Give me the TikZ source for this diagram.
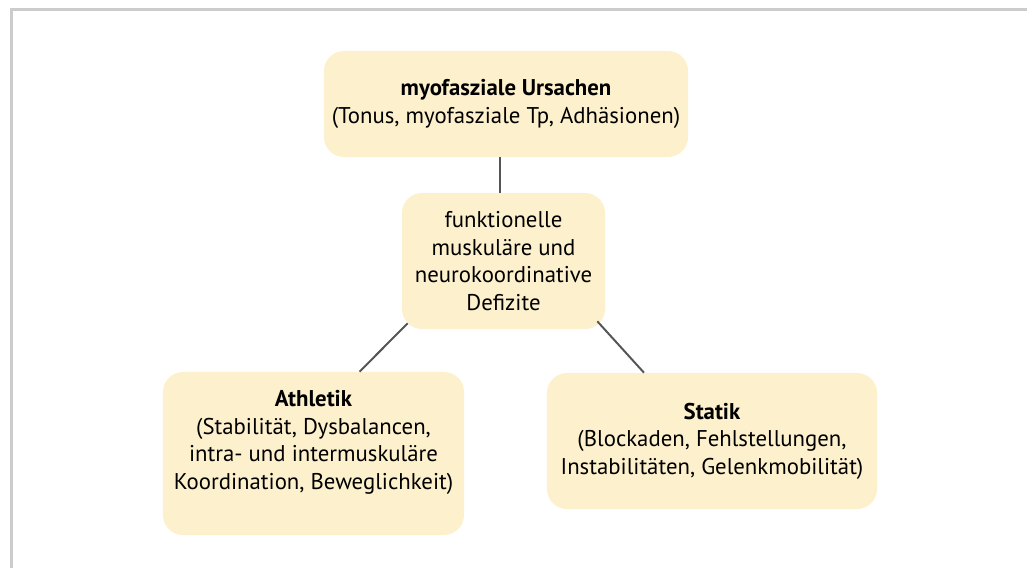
\documentclass[tikz,border=0pt]{standalone}
\usepackage{fontspec}
\setmainfont{PT Sans}
\usetikzlibrary{calc}
\definecolor{boxfill}{HTML}{FDF0CC}
\definecolor{linegrey}{HTML}{555555}
\definecolor{framegrey}{HTML}{CCCCCC}
\begin{document}
\begin{tikzpicture}[x=0.025cm,y=-0.025cm,
  box/.style={fill=boxfill, rounded corners=0.5cm, align=center, inner sep=0pt,
    font=\fontsize{16.2}{19.6}\selectfont},
  link/.style={draw=linegrey, line width=1.4pt}]

\useasboundingbox (0,0) rectangle (1027,568);
\draw[framegrey, line width=1.5pt] (11.5,568) -- (11.5,9.5) -- (1027,9.5);

\node[box, minimum width=9.1cm, minimum height=2.65cm] (v1) at (506,104) {\textbf{myofasziale Ursachen}\\(Tonus, myofasziale Tp, Adhäsionen)};
\node[box, minimum width=5.075cm, minimum height=3.4cm] (v2) at (503.5,261) {funktionelle\\muskuläre und\\neurokoordinative\\Defizite};
\node[box, minimum width=7.525cm, minimum height=4.075cm] (v3) at (313.5,453.5) {\textbf{Athletik}\\(Stabilität, Dysbalancen,\\intra- und intermuskuläre\\Koordination, Beweglichkeit)\\\mbox{}};
\node[box, minimum width=8.25cm, minimum height=3.4cm] (v4) at (712,441) {\textbf{Statik}\\(Blockaden, Fehlstellungen,\\Instabilitäten, Gelenkmobilität)};

\coordinate (v5) at (500,0);
\draw[link] (v1.south -| v5) -- (v2.north -| v5);
\draw[link] ($(v2.south west)+(6,-6)$) -- ($(v3.north)+(46,0)$);
\draw[link] ($(v2.south east)+(-8,-8)$) -- ($(v4.north)+(-68,0)$);
\end{tikzpicture}
\end{document}
